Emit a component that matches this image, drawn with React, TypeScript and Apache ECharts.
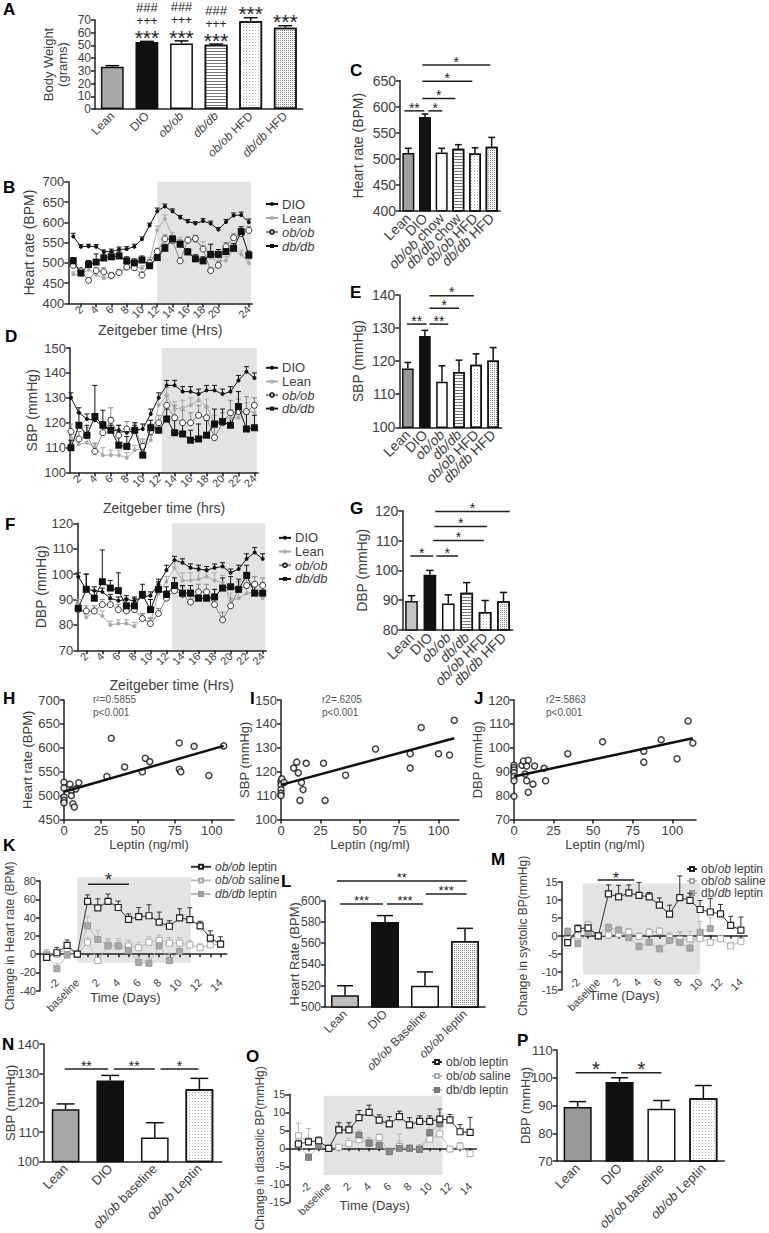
import React, { useEffect, useRef } from "react";
import * as echarts from "echarts";

const FONT = "'Liberation Sans', Arial, Helvetica, sans-serif";
const TXT = "#404040";
const AXC = "#222";

// ---------------- Panel A ----------------
const A_CATS = ["Lean", "DIO", "ob/ob", "db/db", "ob/ob HFD", "db/db HFD"];
const A_VALS = [33.3, 52.7, 51.6, 50.6, 69.0, 64.0];
const A_ERRS = [0.8, 0.5, 2.0, 0.5, 2.8, 1.5];
const A_MARKS = [[], ["***", "+++", "###"], ["***", "+++", "###"], ["***", "+++", "###"], ["***"], ["***"]];

// ---------------- Panel C ----------------
const C_CATS = ["Lean", "DIO", "ob/ob chow", "db/db chow", "ob/ob HFD", "db/db HFD"];
const C_VALS = [511, 580, 512, 519, 510, 523];
const C_ERRS = [9, 6, 8, 8, 11, 18];
const C_SIG: any[] = [[-0.24, 0.96, 592, "**"], [1.2, 2.04, 592, "*"], [0.84, 2.82, 616, "*"], [0.84, 3.84, 649, "*"], [0.84, 4.92, 680, "*"]];

// ---------------- Panel E ----------------
const E_CATS = ["Lean", "DIO", "ob/ob", "db/db", "ob/ob HFD", "db/db HFD"];
const E_VALS = [117.8, 127.6, 113.8, 116.7, 118.9, 120.2];
const E_ERRS = [1.8, 1.7, 4.8, 3.6, 3.3, 3.9];
const E_SIG: any[] = [[-0.06, 1.1, 131.2, "**"], [1.27, 2.37, 131.2, "**"], [1.27, 3.0, 136, "*"], [1.27, 3.87, 139.8, "*"]];

// ---------------- Panel G ----------------
const G_CATS = ["Lean", "DIO", "ob/ob", "db/db", "ob/ob HFD", "db/db HFD"];
const G_VALS = [89.7, 98.5, 88.9, 92.5, 86.0, 89.6];
const G_ERRS = [1.8, 1.5, 2.9, 3.4, 3.9, 3.0];
const G_SIG: any[] = [[-0.06, 1.18, 104.8, "*"], [1.35, 2.53, 104.8, "*"], [1.18, 3.93, 110, "*"], [1.24, 4.1, 114.7, "*"], [1.29, 5.34, 119.7, "*"]];

// ---------------- Time course (hours) ----------------
const HOURS = [1, 2, 3, 4, 5, 6, 7, 8, 9, 10, 11, 12, 13, 14, 15, 16, 17, 18, 19, 20, 21, 22, 23, 24];
const EVEN_HOURS = [2, 4, 6, 8, 10, 12, 14, 16, 18, 20, 22, 24];

// Panel B (heart rate)
const B_DIO = [565, 540, 541, 540, 527, 528, 533, 534, 540, 558, 592, 627, 639, 627, 612, 602, 597, 603, 597, 582, 601, 617, 618, 600];
const B_DIO_E = [8, 5, 5, 5, 5, 6, 6, 6, 6, 6, 6, 8, 6, 6, 5, 5, 5, 6, 6, 5, 6, 6, 7, 8];
const B_LEAN = [472, 472, 483, 471, 462, 464, 476, 486, 490, 487, 506, 581, 608, 565, 553, 551, 553, 540, 513, 503, 506, 532, 521, 499];
const B_LEAN_E = [6, 8, 6, 6, 6, 6, 6, 6, 6, 6, 8, 10, 10, 10, 10, 10, 8, 12, 10, 10, 10, 10, 10, 10];
const B_OB = [494, 480, 457, 481, 478, 469, 476, 490, 488, 470, 500, 528, 559, 555, 505, 556, 560, 534, 481, 494, 540, 562, 572, 580];
const B_OB_E = [8, 8, 6, 8, 10, 8, 8, 6, 8, 8, 8, 8, 10, 8, 8, 8, 8, 8, 8, 8, 10, 10, 10, 10];
const B_DB = [505, 475, 496, 502, 512, 515, 517, 505, 500, 507, 493, 513, 536, 559, 546, 527, 510, 505, 521, 521, 528, 536, 577, 519];
const B_DB_E = [8, 8, 10, 20, 8, 10, 10, 10, 10, 10, 8, 8, 10, 8, 10, 8, 10, 10, 25, 12, 12, 12, 12, 10];
const B_SHADE = [12, 24.3, 400, 700];

// Panel D (SBP)
const D_DIO = [130, 124, 121.5, 121, 118.5, 117, 117, 116, 117, 117.5, 123.5, 130, 135, 135, 132.5, 132.5, 131.5, 133, 133, 131.5, 132.5, 137, 140.5, 138];
const D_DIO_E = [2, 2, 2, 2, 2, 2, 2, 2, 2, 2, 2, 2, 2, 2, 2, 2, 2, 2, 2, 2, 2, 2, 2, 2];
const D_LEAN = [114, 111.5, 112, 110, 107, 107, 107, 106, 109, 109.5, 113, 127, 131, 125.5, 126, 127, 129, 126.5, 120, 121, 122, 122, 125, 124];
const D_LEAN_E = [3, 2, 2, 2, 3, 2, 2, 2, 2, 2, 2, 3, 3, 3, 3, 3, 3, 3, 3, 3, 3, 3, 3, 3];
const D_OB = [116.5, 113.5, 115, 108.5, 116, 121, 115, 117.5, 117, 110.5, 116.5, 120, 127, 122, 120, 120, 123, 122, 114, 120, 124, 124.5, 124.5, 127];
const D_OB_E = [3, 3, 3, 3, 3, 5, 4, 3, 3, 3, 3, 3, 4, 5, 5, 4, 4, 4, 4, 4, 5, 5, 6, 3];
const D_DB = [110, 119, 115, 122.5, 119, 117, 111, 110.5, 117, 107, 118, 117, 121.5, 116, 115.5, 113, 113.5, 115, 119.5, 120.5, 119, 126.5, 117.5, 118];
const D_DB_E = [3, 5, 4, 12.5, 6, 5, 5, 4, 3, 3, 3, 3, 4, 5, 5, 4, 6, 6, 6, 5, 6, 6, 6, 5];
const D_SHADE = [12.4, 24.3, 100, 150];

// Panel F (DBP)
const F_DIO = [99, 94, 93.5, 93, 90.5, 89.5, 90, 89.5, 91, 91.5, 96, 101.5, 105.5, 104.5, 102.5, 102, 101.5, 102.5, 103, 100.5, 102, 106, 108.5, 106];
const F_DIO_E = [1.5, 6, 1.5, 1.5, 1.5, 1.5, 1.5, 1.5, 1.5, 1.5, 2, 2, 1.5, 1.5, 1.5, 1.5, 1.5, 1.5, 1.5, 1.5, 1.5, 2, 2, 2];
const F_LEAN = [88, 83, 85, 83.5, 80, 80.5, 80.5, 79.5, 82.5, 81, 92.5, 97, 102.5, 97.5, 97.5, 98, 99, 97.5, 96.5, 89.5, 90.5, 92.5, 93, 90.5];
const F_LEAN_E = [2, 1.5, 1.5, 2, 1.5, 1.5, 1.5, 1.5, 1.5, 2, 2, 2, 3, 3, 3, 3, 3, 3, 3, 3, 3, 2, 2, 2];
const F_OB = [86, 85.5, 85.5, 88, 88, 86, 85.5, 86, 82.5, 80.5, 84.5, 90.5, 93.5, 92, 89, 93, 93, 88, 82, 87.5, 94, 95.5, 96, 95.5];
const F_OB_E = [2, 2, 2, 2, 2, 2, 2, 2, 2, 2, 2, 3, 3, 3, 3, 3, 3, 3, 3, 3, 3, 3, 3, 3];
const F_DB = [86.5, 94, 90.5, 97, 94.5, 93.5, 87.5, 87.5, 92, 86, 94, 92, 95.5, 92.5, 92.5, 90.5, 90.5, 91, 94.5, 95, 94, 99.5, 92.5, 92.5];
const F_DB_E = [2, 6, 3, 12.5, 3, 7, 3, 3, 4, 4, 3, 3, 3, 3, 3, 3, 3, 3, 4, 4, 4, 4, 4, 4];
const F_SHADE = [12.7, 24.3, 70, 120];

// ---------------- Correlations ----------------
const LEPTIN_TICKS = [0, 25, 50, 75, 100];
const H_PTS = [[0, 528], [0, 516], [0, 497], [0, 490], [0, 485], [4, 524], [5, 510], [5, 500], [6, 483], [7, 476], [8, 514], [10, 527], [29, 540], [32, 620], [41, 560], [53, 550], [55, 578], [58, 571], [78, 610], [78, 555], [79, 550], [88, 603], [98, 542], [108, 604]];
const H_FIT = [[0, 508], [108, 604]];
const I_PTS = [[0, 116], [0, 114.5], [0, 112.5], [0, 111], [0, 110], [0.5, 117], [2, 115.5], [8, 121.5], [10, 124], [11, 119.5], [13, 115.5], [14, 112.5], [12, 108], [16, 123.5], [27, 123.5], [28, 108], [41, 118.5], [60, 129.5], [82, 127.5], [82, 121.5], [89, 138.5], [100, 127.5], [107, 127], [110, 141.5]];
const I_FIT = [[0, 114.5], [110, 134]];
const J_PTS = [[0, 92.7], [0, 91.7], [0, 90.7], [0, 89.6], [0, 88], [0, 86.2], [0, 79.7], [5, 92.7], [6, 94.5], [8, 92.4], [9, 94.8], [13, 92.4], [7, 89], [8, 86.2], [9, 81.4], [12, 84.8], [19, 91.4], [20, 86.2], [34, 97.5], [56, 102.5], [82, 98.6], [82, 94], [93, 103.4], [103, 95.4], [110, 111.2], [113, 102]];
const J_FIT = [[0, 88], [113, 104]];

// ---------------- Leptin treatment time course (days) ----------------
const DAYS = [-3, -2, -1, 0, 1, 2, 3, 4, 5, 6, 7, 8, 9, 10, 11, 12, 13, 14];
const DAY_LABELS = [-2, 0, 2, 4, 6, 8, 10, 12, 14];
const K_LEP = [-3.6, 1.5, 9.5, 0, 57.8, 50.5, 57.8, 51, 38, 41, 42, 35, 30.5, 39.6, 37.8, 31, 17.5, 11];
const K_LEP_E = [6, 6, 6, 0, 7, 10, 8, 7, 6, 10, 12, 11, 6, 10, 13, 5, 8, 8];
const K_SAL = [0, 0, 6, 0, 13, -7, 10, 9, 9, 7, 13, 15, 12, 12, 10, 7, 10, 11];
const K_SAL_E = [5, 6, 6, 0, 5, 6, 6, 6, 6, 6, 6, 6, 6, 6, 5, 5, 4, 4];
const K_DAYS_DB = [-3, -2, -1, 0, 1, 2, 3, 4, 5, 6, 7, 8, 9, 10];
const K_DB = [-1, -16, -1, 0, 31, 16, 9, 9, 4, -9, -10, 9, -7, 3];
const K_DB_E = [4, 6, 4, 0, 10, 10, 8, 8, 8, 6, 6, 8, 8, 6];
const K_SHADE = [0, 11.1, -9.5, 84];
const K_SIG: any[] = [[1.05, 5.05, 76.4, "*"]];

const L_CATS = ["Lean", "DIO", "ob/ob Baseline", "ob/ob leptin"];
const L_VALS = [511, 580, 520, 562];
const L_ERRS = [9, 6, 13, 12];
const L_SIG: any[] = [[-0.2, 3.04, 618.5, "**"], [-0.12, 0.95, 597, "***"], [1.05, 1.95, 597, "***"], [2.02, 3.04, 606.3, "***"]];

const M_LEP = [-1.9, 2, 2.2, 0, 11.6, 10.8, 11.9, 11.2, 10.8, 8.5, 6, 10.6, 9.8, 7.3, 6.6, 6.1, 2.9, 1.6];
const M_LEP_E = [1, 1, 1, 0, 2.5, 3.2, 2.2, 3.6, 1.2, 2, 2.5, 6, 2, 2.5, 3.7, 2.6, 2.5, 3.6];
const M_SAL = [-1, 0, 3, 0, 0.2, 0.5, 1, -0.2, 1, 1.3, -0.5, -1, -0.8, -0.7, -1.8, -0.8, -2.8, -1.5];
const M_SAL_E = [1, 1, 1, 0, 1, 1.5, 1, 1, 1, 1, 1.5, 2, 2, 2, 2, 1, 1, 1];
const M_DAYS_DB = [-3, -2, -1, 0, 1, 2, 3, 4, 5, 6, 7, 8, 9, 10, 11];
const M_DB = [1.2, -2.2, 1, 0, 2.3, 1.6, -0.5, -3, -1.8, -3.6, -1.3, -1.8, -3.4, 1, 2];
const M_DB_E = [1, 1, 1, 0, 1, 1, 1, 1, 1, 1, 2, 3, 3, 3, 3];
const M_SHADE = [-1.5, 10, -10.7, 14.5];
const M_SIG: any[] = [[-0.06, 3.53, 15.5, "*"]];

const N_CATS = ["Lean", "DIO", "ob/ob baseline", "ob/ob Leptin"];
const N_VALS = [117.8, 127.6, 108.2, 124.6];
const N_ERRS = [1.8, 1.7, 5, 3.7];
const N_SIG: any[] = [[-0.02, 0.95, 131.5, "**"], [1.08, 2.0, 131.5, "**"], [2.13, 2.98, 131.5, "*"]];

const O_LEP = [1.2, 1.8, 2.1, 0, 5.1, 5.1, 8.5, 10, 7.8, 6.8, 8.8, 6.5, 7.5, 7.5, 8.1, 7.9, 4.6, 4.4];
const O_LEP_E = [1, 1, 1, 0, 2, 2, 2, 2, 1.5, 2, 1.5, 2, 1.5, 1.5, 2.8, 1.5, 2, 4.2];
const O_SAL = [3.5, 1.8, 2.2, 0, 0.3, 1.3, 2.4, 1.5, 3.0, -1, 0.5, 0, 0, 2.5, 4, -0.2, 0.6, -1.5];
const O_SAL_E = [3.5, 3.7, 1, 0, 0.5, 1.5, 1.5, 1.5, 1, 1, 3.5, 1, 1, 1.5, 2, 0.5, 1, 0.5];
const O_DAYS_DB = [-3, -2, -1, 0, 1, 2, 3, 4, 5, 6, 7, 8, 9, 10, 11];
const O_DB = [1.2, -2.5, 0.7, 0, 5.3, 5.3, 3.7, 1.4, 0.8, -0.9, 0, 0, -0.3, 4.4, 6.8];
const O_DB_E = [1, 1, 1, 0, 2, 2, 1.5, 1, 1, 1, 2, 1, 1, 2, 3];
const O_SHADE = [-0.5, 11.26, -7.4, 14.6];

const P_CATS = ["Lean", "DIO", "ob/ob baseline", "ob/ob Leptin"];
const P_VALS = [89.5, 98.5, 88.8, 92.6];
const P_ERRS = [1.9, 1.5, 3, 4.6];
const P_SIG: any[] = [[-0.05, 0.92, 101.8, "*"], [1.04, 2.0, 101.8, "*"]];

const LEG_TEXT: Record<string, string> = {
  "B-DIO": "DIO", "B-Lean": "Lean", "B-ob": "{i|ob/ob}", "B-db": "{i|db/db}",
  "D-DIO": "DIO", "D-Lean": "Lean", "D-ob": "{i|ob/ob}", "D-db": "{i|db/db}",
  "F-DIO": "DIO", "F-Lean": "Lean", "F-ob": "{i|ob/ob}", "F-db": "{i|db/db}",
  "K-lep": "{i|ob/ob} leptin", "K-sal": "{i|ob/ob} saline", "K-db": "{i|db/db} leptin",
  "M-lep": "ob/{i|ob} leptin", "M-sal": "ob/{i|ob} saline", "M-db": "db/{i|db} leptin",
  "O-lep": "ob/ob leptin", "O-sal": "ob/{i|ob} saline", "O-db": "db/db leptin",
};

const ital = (v: string) => v.replace(/(ob\/ob|db\/db)/g, "{i|$1}");

const STY: any = {
  dio: { symbol: "circle", size: 4, fill: "#111", border: "#111", bw: 0, line: "#111", err: "#111", z: 8 },
  lean: { symbol: "circle", size: 4, fill: "#aaa", border: "#aaa", bw: 0, line: "#aaa", err: "#aaa", z: 6 },
  ob: { symbol: "circle", size: 6, fill: "#fff", border: "#333", bw: 1, line: "#888", err: "#888", z: 7 },
  db: { symbol: "rect", size: 7, fill: "#111", border: "#111", bw: 0, line: "#111", err: "#111", z: 9 },
  lep: { symbol: "rect", size: 6, fill: "#fff", border: "#222", bw: 1.2, line: "#333", err: "#333", z: 9 },
  sal: { symbol: "rect", size: 6, fill: "#fff", border: "#aaa", bw: 1, line: "#bbb", err: "#bbb", z: 7 },
  dbl: { symbol: "rect", size: 6, fill: "#aaa", border: "#999", bw: 1, line: "#bbb", err: "#bbb", z: 8 },
};

const FILL: any = {
  gray: (c: string) => ({ color: c }),
  black: { color: "#111" },
  white: { color: "#fff" },
  stripes: { color: "#fff", decal: { symbol: "rect", symbolSize: 1, dashArrayX: [1, 0], dashArrayY: [1, 2], color: "#777" } },
  dotsLight: { color: "#fff", decal: { symbol: "rect", symbolSize: 1, dashArrayX: [1, 2], dashArrayY: [1, 2], color: "#aaa" } },
  dotsDense: { color: "#fff", decal: { symbol: "rect", symbolSize: 1, dashArrayX: [1, 1], dashArrayY: [1, 1], color: "#888" } },
};

function buildOption() {
  const grid: any[] = [], xAxis: any[] = [], yAxis: any[] = [], series: any[] = [], legend: any[] = [], graphic: any[] = [];
  const AL = { color: AXC, width: 1.5 };

  const addGrid = (left: number, top: number, width: number, height: number) => {
    grid.push({ left, top, width, height });
    return grid.length - 1;
  };
  const addY = (gi: number, min: number, max: number, interval: number, name: string, fs: number, nameGap: number, nameFs: number) => {
    yAxis.push({
      gridIndex: gi, type: "value", min, max, interval, name, nameLocation: "middle", nameGap, nameMoveOverlap: false,
      nameTextStyle: { fontSize: nameFs, color: TXT, fontFamily: FONT, lineHeight: nameFs + 1 },
      axisLine: { show: true, onZero: false, lineStyle: AL },
      axisTick: { show: true, length: 4, lineStyle: AL },
      axisLabel: { fontSize: fs, color: TXT, fontFamily: FONT, margin: 4 },
      splitLine: { show: false },
    });
    return yAxis.length - 1;
  };
  const addCatX = (gi: number, cats: string[], fs: number) => {
    xAxis.push({
      gridIndex: gi, type: "category", data: cats,
      axisLine: { lineStyle: AL }, axisTick: { alignWithLabel: true, length: 4, lineStyle: AL },
      axisLabel: {
        interval: 0, rotate: 45, fontSize: fs, color: TXT, fontFamily: FONT, margin: 5,
        formatter: (v: string) => ital(v),
        rich: { i: { fontStyle: "italic", fontSize: fs, color: TXT, fontFamily: FONT } },
      },
      splitLine: { show: false },
    });
    return xAxis.length - 1;
  };
  const addValX = (gi: number, min: number, max: number, ticks: number[], rotate: number, fs: number, name: string, nameGap: number, nameFs: number) => {
    xAxis.push({
      gridIndex: gi, type: "value", min, max, position: "bottom",
      axisLine: { onZero: false, lineStyle: AL },
      axisTick: { customValues: ticks, length: 4, lineStyle: AL },
      axisLabel: { customValues: ticks, rotate, fontSize: fs, color: TXT, fontFamily: FONT, margin: 4, showMaxLabel: true, showMinLabel: true, hideOverlap: false },
      splitLine: { show: false },
      name, nameLocation: "middle", nameGap, nameMoveOverlap: false, nameTextStyle: { fontSize: nameFs, color: TXT, fontFamily: FONT },
      z: 3,
    });
    return xAxis.length - 1;
  };
  const addDayX = (gi: number, min: number, max: number, offset: number, nameGap: number, padR: number) => {
    xAxis.push({
      gridIndex: gi, type: "value", min, max, position: "bottom",
      axisLine: { onZero: true, lineStyle: AL },
      axisTick: { customValues: DAYS, length: 3, lineStyle: AL },
      axisLabel: { show: false }, splitLine: { show: false }, z: 3,
    });
    const main = xAxis.length - 1;
    xAxis.push({
      gridIndex: gi, type: "value", min, max, position: "bottom", offset,
      axisLine: { show: false, onZero: false }, axisTick: { show: false },
      axisLabel: {
        customValues: DAY_LABELS, rotate: 45, fontSize: 11, color: TXT, fontFamily: FONT, margin: 2, showMaxLabel: true, showMinLabel: true, hideOverlap: false,
        formatter: (v: number) => (v === 0 ? "baseline" : String(v)),
      },
      splitLine: { show: false },
      name: "Time (Days)", nameLocation: "middle", nameGap, nameMoveOverlap: false,
      nameTextStyle: { fontSize: 13, color: TXT, fontFamily: FONT, padding: [0, padR, 0, 0] },
    });
    return main;
  };

  const addBars = (xi: number, yi: number, vals: number[], styles: any[], barW: string) => {
    series.push({
      type: "bar", xAxisIndex: xi, yAxisIndex: yi, barWidth: barW, silent: true, z: 2,
      itemStyle: { borderColor: "#111", borderWidth: 1.5 },
      data: vals.map((v, k) => ({ value: v, itemStyle: styles[k] })),
    });
  };
  const addBarErr = (xi: number, yi: number, vals: number[], errs: number[]) => {
    series.push({
      type: "custom", xAxisIndex: xi, yAxisIndex: yi, z: 3, silent: true, clip: false,
      data: vals.map((v, k) => [k, v, v + errs[k]]),
      renderItem: (p: any, api: any) => {
        const a = api.coord([api.value(0), api.value(1)]);
        const b = api.coord([api.value(0), api.value(2)]);
        const half = api.size([1, 0])[0] * 0.2;
        const st = { stroke: "#111", lineWidth: 1.5 };
        return {
          type: "group", children: [
            { type: "line", shape: { x1: a[0], y1: a[1], x2: b[0], y2: b[1] }, style: st },
            { type: "line", shape: { x1: b[0] - half, y1: b[1], x2: b[0] + half, y2: b[1] }, style: st },
          ],
        };
      },
    });
  };
  const addSig = (xi: number, yi: number, sig: any[], isCat: boolean, fs: number, up: number) => {
    series.push({
      type: "custom", xAxisIndex: xi, yAxisIndex: yi, z: 6, silent: true, clip: false,
      data: sig.map((s) => [isCat ? 0 : s[0], s[2]]),
      renderItem: (p: any, api: any) => {
        const s = sig[p.dataIndex];
        let x1: number, x2: number, y: number;
        if (isCat) {
          const o = api.coord([0, s[2]]);
          const bw = api.size([1, 0])[0];
          x1 = o[0] + s[0] * bw; x2 = o[0] + s[1] * bw; y = o[1];
        } else {
          const a = api.coord([s[0], s[2]]);
          const b = api.coord([s[1], s[2]]);
          x1 = a[0]; x2 = b[0]; y = a[1];
        }
        return {
          type: "group", children: [
            { type: "line", shape: { x1, y1: y, x2, y2: y }, style: { stroke: "#222", lineWidth: 1.5 } },
            { type: "text", x: (x1 + x2) / 2, y: y - up + 0.225 * fs, style: { text: s[3], align: "center", verticalAlign: "middle", fontSize: fs, lineHeight: 8, fontFamily: FONT, fill: "#222" } },
          ],
        };
      },
    });
  };
  const addShade = (xi: number, yi: number, sh: number[]) => {
    series.push({
      type: "custom", xAxisIndex: xi, yAxisIndex: yi, z: 1, silent: true, clip: false,
      data: [[sh[0], sh[2], sh[1], sh[3]]],
      renderItem: (p: any, api: any) => {
        const a = api.coord([api.value(0), api.value(3)]);
        const b = api.coord([api.value(2), api.value(1)]);
        return { type: "rect", shape: { x: a[0], y: a[1], width: b[0] - a[0], height: b[1] - a[1] }, style: { fill: "#e3e3e3" } };
      },
    });
  };
  const addLine = (xi: number, yi: number, name: string, xs: number[], ys: number[], errs: number[], st: any) => {
    series.push({
      type: "custom", xAxisIndex: xi, yAxisIndex: yi, z: st.z - 4, silent: true, clip: false,
      data: ys.map((y, i) => [xs[i], y, y + errs[i]]),
      renderItem: (p: any, api: any) => {
        const a = api.coord([api.value(0), api.value(1)]);
        const b = api.coord([api.value(0), api.value(2)]);
        const s = { stroke: st.err, lineWidth: 1 };
        return {
          type: "group", children: [
            { type: "line", shape: { x1: a[0], y1: a[1], x2: b[0], y2: b[1] }, style: s },
            { type: "line", shape: { x1: b[0] - 2.5, y1: b[1], x2: b[0] + 2.5, y2: b[1] }, style: s },
          ],
        };
      },
    });
    series.push({
      type: "line", name, xAxisIndex: xi, yAxisIndex: yi, z: st.z, silent: true,
      data: ys.map((y, i) => [xs[i], y]),
      symbol: st.symbol, symbolSize: st.size, showAllSymbol: true,
      lineStyle: { color: st.line, width: 1 },
      itemStyle: { color: st.fill, borderColor: st.border, borderWidth: st.bw },
    });
  };
  const addLegend = (left: number, top: number, names: string[], iw: number, fs: number, lh: number) => {
    legend.push({
      left, top, orient: "vertical", itemGap: 0, itemWidth: iw, itemHeight: 5, padding: 0, selectedMode: false,
      data: names, formatter: (n: string) => LEG_TEXT[n],
      textStyle: { fontSize: fs, fontWeight: "normal", color: TXT, fontFamily: FONT, lineHeight: lh, padding: [0, 0, 0, -1], rich: { i: { fontStyle: "italic", fontWeight: "normal", fontSize: fs, color: TXT, fontFamily: FONT, lineHeight: lh } } },
    });
  };
  const addText = (x: number, y: number, text: string, fs: number, opts: any = {}) => {
    graphic.push({ type: "text", x, y, style: { text, fontSize: fs, fontFamily: FONT, fill: opts.fill || "#000", fontWeight: opts.bold ? "bold" : "normal", align: opts.align || "left", verticalAlign: "middle", lineHeight: opts.lh || fs + 2 } });
  };
  const addScatter = (xi: number, yi: number, pts: number[][], fit: number[][]) => {
    series.push({ type: "scatter", xAxisIndex: xi, yAxisIndex: yi, data: pts, symbol: "circle", symbolSize: 6, silent: true, z: 4, itemStyle: { color: "#fff", borderColor: "#111", borderWidth: 1.5 } });
    series.push({ type: "line", xAxisIndex: xi, yAxisIndex: yi, data: fit, symbol: "none", silent: true, z: 5, lineStyle: { color: "#111", width: 2.5 } });
  };

  // ---------- A ----------
  let g = addGrid(95, 20, 207.6, 89);
  let xi = addCatX(g, A_CATS, 12);
  let yi = addY(g, 0, 70, 10, "Body Weight\n(grams)", 12, 26, 13);
  addBars(xi, yi, A_VALS, [FILL.gray("#a8a8a8"), FILL.black, FILL.white, FILL.stripes, FILL.dotsLight, FILL.dotsDense], "66%");
  addBarErr(xi, yi, A_VALS, A_ERRS);
  series.push({
    type: "custom", xAxisIndex: xi, yAxisIndex: yi, z: 6, silent: true, clip: false,
    data: A_VALS.map((v, k) => [k, v + A_ERRS[k]]),
    renderItem: (p: any, api: any) => {
      const pt = api.coord([api.value(0), api.value(1)]);
      const marks: string[] = A_MARKS[p.dataIndex];
      const offs = [8.5, 20.5, 34];
      return {
        type: "group",
        children: marks.map((m, j) => {
          const fs = m === "***" ? 21 : m === "+++" ? 12 : 13;
          const comp = m === "***" ? 0.225 * fs : 0;
          return { type: "text", x: pt[0], y: pt[1] - offs[j] + comp, style: { text: m, align: "center", verticalAlign: "middle", fontSize: fs, lineHeight: 10, fontFamily: FONT, fill: "#222" } };
        }),
      };
    },
  });

  // ---------- C ----------
  g = addGrid(400, 80.7, 100, 130);
  xi = addCatX(g, C_CATS, 14);
  yi = addY(g, 400, 650, 50, "Heart rate (BPM)", 14, 35, 14);
  addBars(xi, yi, C_VALS, [FILL.gray("#a0a0a0"), FILL.black, FILL.white, FILL.stripes, FILL.dotsLight, FILL.dotsDense], "72%");
  addBarErr(xi, yi, C_VALS, C_ERRS);
  addSig(xi, yi, C_SIG, true, 14, 6.5);

  // ---------- B ----------
  g = addGrid(68.3, 181.7, 184, 121.8);
  xi = addValX(g, 0.35, 24.45, EVEN_HOURS, 45, 11, "Zeitgeber time (Hrs)", 19, 14);
  yi = addY(g, 400, 700, 50, "Heart rate (BPM)", 13, 32, 14);
  addShade(xi, yi, B_SHADE);
  addLine(xi, yi, "B-DIO", HOURS, B_DIO, B_DIO_E, STY.dio);
  addLine(xi, yi, "B-Lean", HOURS, B_LEAN, B_LEAN_E, STY.lean);
  addLine(xi, yi, "B-ob", HOURS, B_OB, B_OB_E, STY.ob);
  addLine(xi, yi, "B-db", HOURS, B_DB, B_DB_E, STY.db);
  addLegend(265, 197, ["B-DIO", "B-Lean", "B-ob", "B-db"], 12, 13, 14);

  // ---------- E ----------
  g = addGrid(399.3, 295, 102.4, 132.3);
  xi = addCatX(g, E_CATS, 14);
  yi = addY(g, 100, 140, 10, "SBP (mmHg)", 14, 34, 14);
  addBars(xi, yi, E_VALS, [FILL.gray("#999"), FILL.black, FILL.white, FILL.stripes, FILL.dotsLight, FILL.dotsDense], "68%");
  addBarErr(xi, yi, E_VALS, E_ERRS);
  addSig(xi, yi, E_SIG, true, 14, 6.5);

  // ---------- D ----------
  g = addGrid(70, 348, 188, 124.6);
  xi = addValX(g, 0.88, 24.45, EVEN_HOURS, 45, 11, "Zeitgeber time (hrs)", 28, 14);
  yi = addY(g, 100, 150, 10, "SBP (mmHg)", 13, 31, 14);
  addShade(xi, yi, D_SHADE);
  addLine(xi, yi, "D-DIO", HOURS, D_DIO, D_DIO_E, STY.dio);
  addLine(xi, yi, "D-Lean", HOURS, D_LEAN, D_LEAN_E, STY.lean);
  addLine(xi, yi, "D-ob", HOURS, D_OB, D_OB_E, STY.ob);
  addLine(xi, yi, "D-db", HOURS, D_DB, D_DB_E, STY.db);
  addLegend(265, 361, ["D-DIO", "D-Lean", "D-ob", "D-db"], 12, 13, 13.6);

  // ---------- G ----------
  g = addGrid(402.3, 510.7, 110.4, 119.3);
  xi = addCatX(g, G_CATS, 14);
  yi = addY(g, 80, 120, 10, "DBP (mmHg)", 14, 33, 14);
  addBars(xi, yi, G_VALS, [FILL.gray("#c4c4c4"), FILL.black, FILL.white, FILL.stripes, FILL.dotsLight, FILL.dotsDense], "69%");
  addBarErr(xi, yi, G_VALS, G_ERRS);
  addSig(xi, yi, G_SIG, true, 14, 6.5);

  // ---------- F ----------
  g = addGrid(77.3, 523.3, 189, 127);
  xi = addValX(g, 0.88, 24.45, EVEN_HOURS, 45, 11, "Zeitgeber time (Hrs)", 28, 14);
  yi = addY(g, 70, 120, 10, "DBP (mmHg)", 13, 29, 14);
  addShade(xi, yi, F_SHADE);
  addLine(xi, yi, "F-DIO", HOURS, F_DIO, F_DIO_E, STY.dio);
  addLine(xi, yi, "F-Lean", HOURS, F_LEAN, F_LEAN_E, STY.lean);
  addLine(xi, yi, "F-ob", HOURS, F_OB, F_OB_E, STY.ob);
  addLine(xi, yi, "F-db", HOURS, F_DB, F_DB_E, STY.db);
  addLegend(278, 531, ["F-DIO", "F-Lean", "F-ob", "F-db"], 12, 13, 13.7);

  // ---------- H, I, J ----------
  g = addGrid(64, 700, 170, 119.5);
  xi = addValX(g, 0, 115, LEPTIN_TICKS, 0, 13, "Leptin (ng/ml)", 18, 13);
  yi = addY(g, 450, 700, 50, "Heart rate (BPM)", 13, 30, 13);
  addScatter(xi, yi, H_PTS, H_FIT);
  g = addGrid(281, 700, 178, 119.5);
  xi = addValX(g, 0, 113, LEPTIN_TICKS, 0, 13, "Leptin (ng/ml)", 18, 13);
  yi = addY(g, 100, 150, 10, "SBP (mmHg)", 13, 30, 13);
  addScatter(xi, yi, I_PTS, I_FIT);
  g = addGrid(514, 700, 182, 119.5);
  xi = addValX(g, 0, 115, LEPTIN_TICKS, 0, 13, "Leptin (ng/ml)", 18, 13);
  yi = addY(g, 70, 120, 10, "DBP (mmHg)", 13, 30, 13);
  addScatter(xi, yi, J_PTS, J_FIT);

  // ---------- K ----------
  g = addGrid(40, 881, 186.7, 109.7);
  yi = addY(g, -40, 80, 20, "Change in Heart rate (BPM)", 11, 24, 12);
  xi = addDayX(g, -3.65, 14.6, -12, 12, 16);
  addShade(xi, yi, K_SHADE);
  addLine(xi, yi, "K-db", K_DAYS_DB, K_DB, K_DB_E, STY.dbl);
  addLine(xi, yi, "K-sal", DAYS, K_SAL, K_SAL_E, STY.sal);
  addLine(xi, yi, "K-lep", DAYS, K_LEP, K_LEP_E, STY.lep);
  addSig(xi, yi, K_SIG, false, 18, 8);
  addLegend(190, 860, ["K-lep", "K-sal", "K-db"], 20, 12, 13.6);

  // ---------- L ----------
  g = addGrid(325, 900.7, 160, 106.3);
  xi = addCatX(g, L_CATS, 12);
  yi = addY(g, 500, 600, 20, "Heart Rate (BPM)", 12, 24, 13);
  addBars(xi, yi, L_VALS, [FILL.gray("#bdbdbd"), FILL.black, FILL.white, FILL.dotsDense], "70%");
  addBarErr(xi, yi, L_VALS, L_ERRS);
  addSig(xi, yi, L_SIG, true, 13, 6);

  // ---------- M ----------
  g = addGrid(561.7, 881.7, 185.3, 108.3);
  yi = addY(g, -15, 15, 5, "Change in systolic BP(mmHg)", 11, 32, 12);
  xi = addDayX(g, -3.59, 14.6, -12, 11, 60);
  addShade(xi, yi, M_SHADE);
  addLine(xi, yi, "M-db", M_DAYS_DB, M_DB, M_DB_E, STY.dbl);
  addLine(xi, yi, "M-sal", DAYS, M_SAL, M_SAL_E, STY.sal);
  addLine(xi, yi, "M-lep", DAYS, M_LEP, M_LEP_E, STY.lep);
  addSig(xi, yi, M_SIG, false, 16, 5);
  addLegend(686, 863, ["M-lep", "M-sal", "M-db"], 10, 12, 12);

  // ---------- N ----------
  g = addGrid(43.3, 1044, 178.4, 117.7);
  xi = addCatX(g, N_CATS, 13);
  yi = addY(g, 100, 140, 10, "SBP (mmHg)", 13, 26, 13);
  addBars(xi, yi, N_VALS, [FILL.gray("#a8a8a8"), FILL.black, FILL.white, FILL.dotsLight], "62%");
  addBarErr(xi, yi, N_VALS, N_ERRS);
  addSig(xi, yi, N_SIG, true, 14, 6);

  // ---------- O ----------
  g = addGrid(289.3, 1094.3, 186.9, 108);
  yi = addY(g, -15, 15, 5, "Change in diastolic BP(mmHg)", 11, 23, 12);
  xi = addDayX(g, -3.9, 14.6, -20, 17, 16);
  addShade(xi, yi, O_SHADE);
  addLine(xi, yi, "O-db", O_DAYS_DB, O_DB, O_DB_E, { ...STY.dbl, fill: "#888", border: "#777" });
  addLine(xi, yi, "O-sal", DAYS, O_SAL, O_SAL_E, STY.sal);
  addLine(xi, yi, "O-lep", DAYS, O_LEP, O_LEP_E, STY.lep);
  addLegend(431, 1055, ["O-lep", "O-sal", "O-db"], 10, 12, 14);

  // ---------- P ----------
  g = addGrid(556.7, 1050, 167.6, 111);
  xi = addCatX(g, P_CATS, 13);
  yi = addY(g, 70, 110, 10, "DBP (mmHg)", 13, 24, 13);
  addBars(xi, yi, P_VALS, [FILL.gray("#999"), FILL.black, FILL.white, FILL.dotsLight], "67%");
  addBarErr(xi, yi, P_VALS, P_ERRS);
  addSig(xi, yi, P_SIG, true, 20, 8);

  // ---------- panel letters & annotations ----------
  const letters: [string, number, number][] = [
    ["A", 3, 9], ["B", 3, 187], ["C", 350, 70], ["D", 5, 336], ["E", 350, 292], ["F", 5, 524], ["G", 350, 508],
    ["H", 3, 698], ["I", 250, 698], ["J", 474, 698], ["K", 3, 845], ["L", 281, 881], ["M", 491, 859],
    ["N", 2, 1044], ["O", 246, 1056], ["P", 517, 1040],
  ];
  letters.forEach(([t, x, y]) => addText(x, y, t, 17, { bold: true }));
  addText(93, 706, "r²=0.5855\np<0.001", 10, { fill: "#555", lh: 13 });
  addText(322, 706, "r2=.6205\np<0.001", 10, { fill: "#555", lh: 13 });
  addText(546, 706, "r2=.5863\np<0.001", 10, { fill: "#555", lh: 13 });

  return {
    animation: false,
    backgroundColor: "#fff",
    textStyle: { fontFamily: FONT },
    grid, xAxis, yAxis, series, legend, graphic,
  };
}

export default function App() {
  const ref = useRef<HTMLDivElement>(null);
  useEffect(() => {
    if (!ref.current) return;
    const chart = echarts.init(ref.current, null, { renderer: "svg" });
    chart.setOption(buildOption() as any);
    return () => chart.dispose();
  }, []);
  return <div ref={ref} style={{ position: "absolute", left: 0, top: 0, width: 769, height: 1233, background: "#fff" }} />;
}
